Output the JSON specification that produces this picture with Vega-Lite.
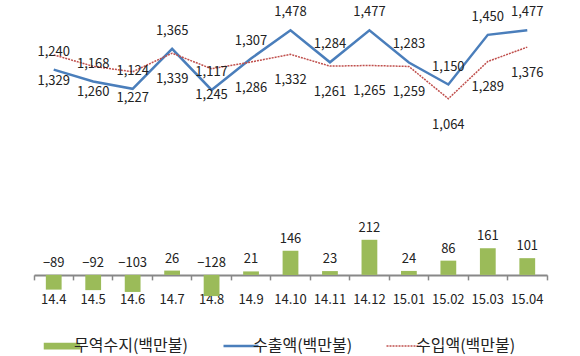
{
  "$schema": "https://vega.github.io/schema/vega-lite/v6.json",
  "autosize": {"type": "none"},
  "padding": {"left": 34, "top": 10, "right": 33, "bottom": 48},
  "width": 513,
  "height": 298,
  "config": {
    "view": {"stroke": null},
    "font": "Noto Sans CJK KR",
    "text": {"font": "Noto Sans CJK KR", "fontSize": 13, "color": "#222222"}
  },
  "data": {
    "values": [
      {"month": "14.4", "export": 1240, "import": 1329, "balance": -89},
      {"month": "14.5", "export": 1168, "import": 1260, "balance": -92},
      {"month": "14.6", "export": 1124, "import": 1227, "balance": -103},
      {"month": "14.7", "export": 1365, "import": 1339, "balance": 26},
      {"month": "14.8", "export": 1117, "import": 1245, "balance": -128},
      {"month": "14.9", "export": 1307, "import": 1286, "balance": 21},
      {"month": "14.10", "export": 1478, "import": 1332, "balance": 146},
      {"month": "14.11", "export": 1284, "import": 1261, "balance": 23},
      {"month": "14.12", "export": 1477, "import": 1265, "balance": 212},
      {"month": "15.01", "export": 1283, "import": 1259, "balance": 24},
      {"month": "15.02", "export": 1150, "import": 1064, "balance": 86},
      {"month": "15.03", "export": 1450, "import": 1289, "balance": 161},
      {"month": "15.04", "export": 1477, "import": 1376, "balance": 101}
    ]
  },
  "encoding": {
    "x": {
      "field": "month", "type": "ordinal", "sort": null, "axis": null,
      "scale": {"type": "band", "paddingInner": 0, "paddingOuter": 0}
    }
  },
  "layer": [
    {
      "mark": {"type": "bar", "width": {"band": 0.4}},
      "encoding": {
        "x": {
          "field": "month", "type": "ordinal", "sort": null,
          "axis": {
            "orient": "bottom", "offset": -33.11, "title": null,
            "labels": false, "domain": true, "domainColor": "#888888", "domainWidth": 2,
            "ticks": true, "tickColor": "#888888", "tickWidth": 1.5, "tickSize": 5,
            "bandPosition": 1, "tickExtra": true, "grid": false
          }
        },
        "y": {
          "field": "balance", "type": "quantitative",
          "scale": {"domain": [-200, 1600], "nice": false, "zero": false},
          "axis": null
        },
        "color": {
          "datum": "무역수지(백만불)",
          "scale": {
            "domain": ["무역수지(백만불)", "수출액(백만불)", "수입액(백만불)"],
            "range": ["#9BBB59", "#4A7EBB", "#C0504D"]
          },
          "legend": {
            "orient": "none", "legendX": 20, "legendY": 328, "direction": "horizontal",
            "title": null, "symbolSize": 1225, "labelFont": "Noto Sans CJK KR",
            "labelFontSize": 16, "labelColor": "#222222", "labelOffset": 4,
            "columnPadding": 30,
            "encode": {
              "symbols": {
                "update": {
                  "shape": {"signal": "datum.value === '무역수지(백만불)' ? 'M-1,-0.15H1V0.15H-1Z' : 'stroke'"},
                  "fill": {"signal": "datum.value === '무역수지(백만불)' ? '#9BBB59' : 'transparent'"},
                  "stroke": {"signal": "datum.value === '무역수지(백만불)' ? 'transparent' : (datum.value === '수출액(백만불)' ? '#4A7EBB' : '#C0504D')"},
                  "strokeWidth": {"signal": "datum.value === '수출액(백만불)' ? 2.5 : 1.5"},
                  "strokeDash": {"signal": "datum.value === '수입액(백만불)' ? [2, 1] : [1, 0]"},
                  "opacity": {"value": 1}
                }
              }
            }
          }
        }
      }
    },
    {
      "mark": {"type": "line", "strokeWidth": 2.5},
      "encoding": {
        "x": {
          "field": "month", "type": "ordinal", "sort": null,
          "axis": {
            "orient": "bottom", "offset": -33.11, "title": null,
            "domain": false, "ticks": false, "tickSize": 0, "labelPadding": 19,
            "labelAngle": 0, "labelFont": "Noto Sans CJK KR", "labelFontSize": 13,
            "labelColor": "#222222", "grid": false
          }
        },
        "y": {"field": "export", "type": "quantitative"},
        "color": {"datum": "수출액(백만불)"}
      }
    },
    {
      "mark": {"type": "line", "strokeWidth": 1.5, "strokeDash": [2, 1]},
      "encoding": {
        "y": {"field": "import", "type": "quantitative"},
        "color": {"datum": "수입액(백만불)"}
      }
    },
    {
      "mark": {"type": "text", "dy": -18, "baseline": "middle"},
      "encoding": {
        "y": {"field": "export", "type": "quantitative"},
        "text": {"field": "export", "type": "quantitative", "format": ","}
      }
    },
    {
      "mark": {"type": "text", "dy": 26, "baseline": "middle"},
      "encoding": {
        "y": {"field": "import", "type": "quantitative"},
        "text": {"field": "import", "type": "quantitative", "format": ","}
      }
    },
    {
      "transform": [{"calculate": "max(datum.balance, 0)", "as": "labelY"}],
      "mark": {"type": "text", "dy": -12, "baseline": "middle"},
      "encoding": {
        "y": {"field": "labelY", "type": "quantitative"},
        "text": {"field": "balance", "type": "quantitative"}
      }
    }
  ],
  "resolve": {"axis": {"x": "independent"}}
}
